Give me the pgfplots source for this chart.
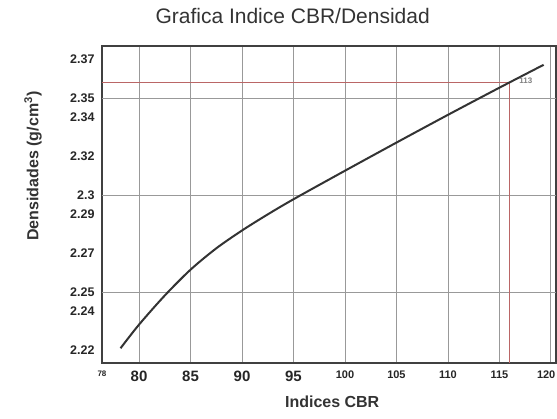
\documentclass[border=0pt]{standalone}
\usepackage{pgfplots}
\pgfplotsset{compat=1.18}
\usepackage{fontspec}
\setmainfont{Liberation Sans}
\begin{document}
\begin{tikzpicture}[x=1pt,y=1pt]
\clip (-102,-56) rectangle (455,363);
\begin{axis}[
  at={(0,0)}, anchor=south west,
  scale only axis, width=454pt, height=317pt,
  xmin=76.4, xmax=120.5, ymin=2.2134, ymax=2.3768,
  axis line style={draw=black!75, line width=1.6pt},
  xtick={76.4,80,85,90,95,100,105,110,115,120},
  xticklabels={{\fontsize{8}{8}\selectfont 78},80,85,90,95,
    {\fontsize{11}{11}\selectfont 100},{\fontsize{11}{11}\selectfont 105},
    {\fontsize{11}{11}\selectfont 110},{\fontsize{11}{11}\selectfont 115},
    {\fontsize{11}{11}\selectfont\hspace*{9pt}\llap{120}}},
  ytick={2.22,2.24,2.25,2.27,2.29,2.3,2.32,2.34,2.35,2.37},
  yticklabels={2.22,2.24,2.25,2.27,2.29,2.3,2.32,2.34,2.35,2.37},
  major tick length=0pt,
  x tick label style={font=\bfseries\fontsize{15}{15}\selectfont, text=black!85, yshift=-4pt},
  y tick label style={font=\bfseries\fontsize{12.5}{12.5}\selectfont, text=black!85, xshift=-4pt},
  xmajorgrids,
  major grid style={draw=black!40, line width=0.8pt},
  minor x tick num=4,
  xminorgrids,
  minor grid style={draw=black!10, line width=0.5pt},
  extra y ticks={2.25,2.3,2.35},
  extra y tick labels={},
  extra y tick style={grid=major},
  title={Grafica Indice CBR/Densidad},
  title style={font=\fontsize{21}{21}\selectfont, text=black!80, at={(axis description cs:0.42,1.076)}, anchor=center},
  xlabel={Indices CBR},
  xlabel style={font=\bfseries\fontsize{16}{16}\selectfont, text=black!80, at={(axis description cs:0.507,-0.123)}, anchor=center},
  ylabel={Densidades (g/cm\textsuperscript{3})},
  ylabel style={font=\bfseries\fontsize{16}{16}\selectfont, text=black!80, at={(axis description cs:-0.152,0.621)}, anchor=center},
  clip=true,
]
\addplot[draw=red!55!black!60, line width=0.8pt] coordinates {(76.4,2.358) (116.0,2.358) (116.0,2.2134)};
\addplot[draw=black!80, line width=2pt, smooth] coordinates {
 (78.2,2.221) (80.0,2.2332) (82.5,2.2482) (85.0,2.2615) (87.5,2.2725)
 (90.0,2.2817) (92.5,2.29) (95.0,2.2978) (100,2.3125)
 (105,2.327) (110,2.3413) (115,2.3553) (119.3,2.3671)};
\node[font=\bfseries\fontsize{8}{8}\selectfont, text=black!50, anchor=west] at (axis cs:116.6,2.359) {113};
\end{axis}
\end{tikzpicture}
\end{document}
